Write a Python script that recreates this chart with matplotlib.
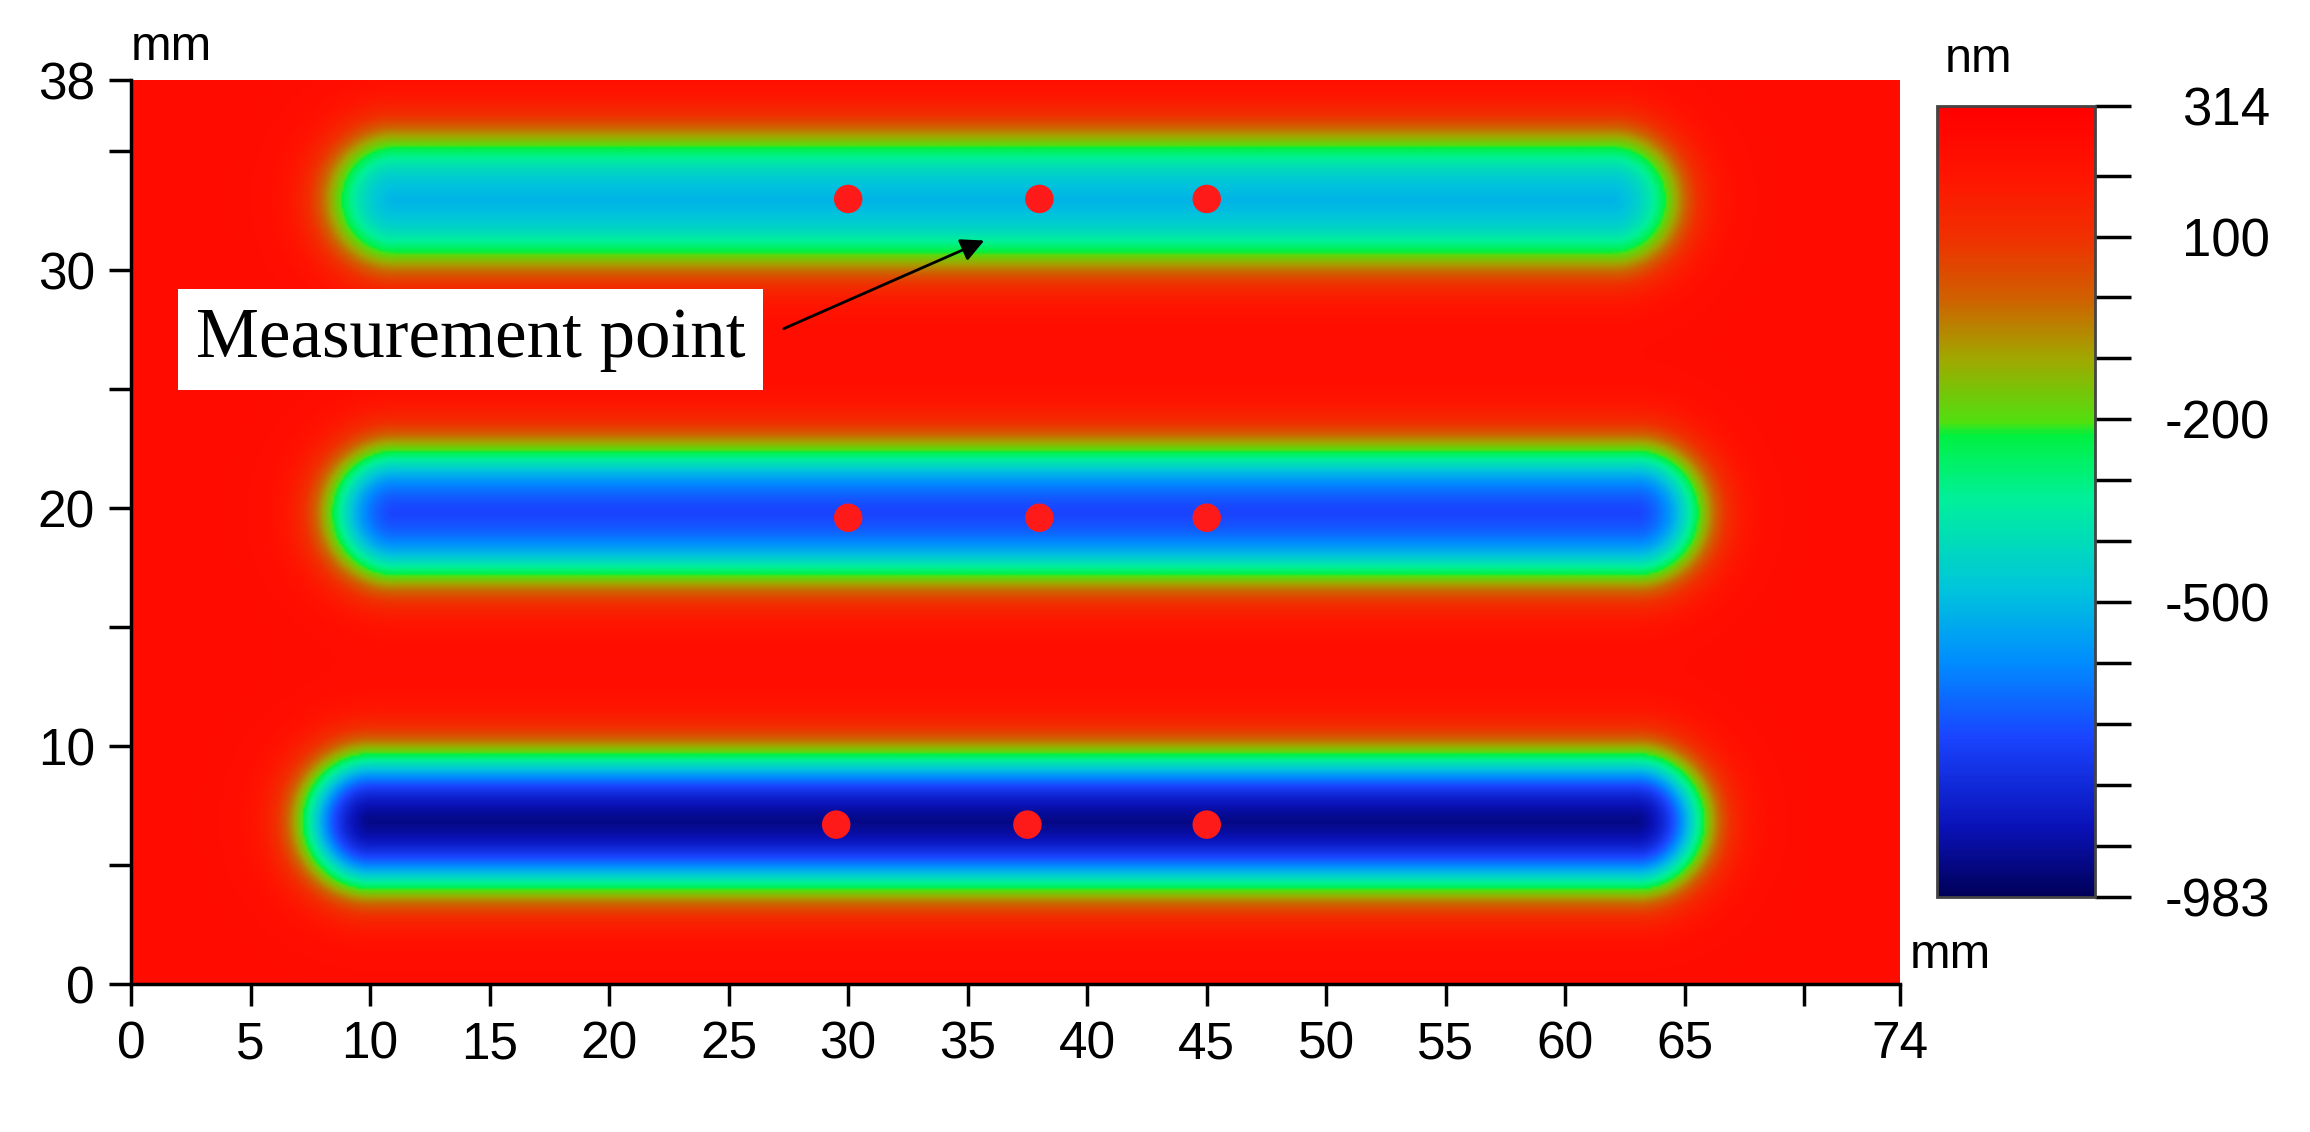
import numpy as np
import matplotlib
matplotlib.use("Agg")
import matplotlib.pyplot as plt
from matplotlib.colors import LinearSegmentedColormap, Normalize
from matplotlib.cm import ScalarMappable

plt.rcParams['font.family'] = ['Liberation Sans', 'DejaVu Sans']

# data
x_ticks = [0, 5, 10, 15, 20, 25, 30, 35, 40, 45, 50, 55, 60, 65, 74]
y_ticks = [0, 10, 20, 30, 38]
cbar_labels = [314, 100, -200, -500, -983]
vmin, vmax = -983, 314
background = 250
stripe_y = [33.0, 19.8, 6.8]
stripe_x0 = [11.0, 11.0, 10.0]
stripe_x1 = [62.0, 63.0, 63.0]
stripe_depth = [-540, -760, -970]
pts_x = [30, 38, 45, 30, 38, 45, 29.5, 37.5, 45]
pts_y = [33, 33, 33, 19.6, 19.6, 19.6, 6.7, 6.7, 6.7]

cvals = [-983, -870, -720, -600, -480, -330, -225, -205, -100, 0, 100, 200, 314]
ccols = ['#000058', '#0a12b8', '#1a45ff', '#008cff', '#00c4dc', '#00f09a',
         '#00f040', '#50e010', '#a0a800', '#d06000', '#f03000', '#ff1500', '#ff0000']
cmap = LinearSegmentedColormap.from_list(
    'c', [((v - vmin) / (vmax - vmin), c) for v, c in zip(cvals, ccols)])

xx = np.linspace(0, 74, 740)
yy = np.linspace(0, 38, 380)
X, Y = np.meshgrid(xx, yy)
Z = np.full_like(X, background, dtype=float)
for yc, x0, x1, dep in zip(stripe_y, stripe_x0, stripe_x1, stripe_depth):
    dx = np.clip(X, x0, x1) - X
    d = np.sqrt(dx ** 2 + (Y - yc) ** 2)
    f = 1 / (1 + np.exp((d - 2.5) / 0.75))
    Z = Z + (dep - background) * f

W, H = 2310, 1132
fig = plt.figure(figsize=(23.1, 11.32), dpi=100)
ax = fig.add_axes([131 / W, 1 - 984 / H, (1900 - 131) / W, (984 - 80) / H])
ax.imshow(Z, extent=[0, 74, 0, 38], origin='lower', cmap=cmap, vmin=vmin, vmax=vmax,
          aspect='auto', interpolation='bilinear')
ax.scatter(pts_x, pts_y, s=420, color='#ff1a1a', edgecolors='none', zorder=3)
ax.set_xlim(0, 74)
ax.set_ylim(0, 38)
ax.set_xticks(x_ticks)
ax.set_xticks([70], minor=True)
ax.set_yticks(y_ticks)
ax.set_yticks([5, 15, 25, 35], minor=True)
ax.tick_params(which='both', direction='out', length=16, width=2.5, labelsize=37, pad=10)
for s in ['top', 'right']:
    ax.spines[s].set_visible(False)
for s in ['left', 'bottom']:
    ax.spines[s].set_linewidth(2.5)
ax.text(0, 38.4, 'mm', fontsize=35, ha='left', va='bottom')
ax.text(74.4, 1.2, 'mm', fontsize=35, ha='left', va='center')

ax.annotate('', xy=(35.8, 31.3), xytext=(27.2, 27.5),
            arrowprops=dict(arrowstyle='-|>', color='black', lw=2, mutation_scale=35))
ax.text(14.2, 27.1, 'Measurement point', fontsize=51, family='Liberation Serif',
        ha='center', va='center',
        bbox=dict(boxstyle='square,pad=0.25', fc='white', ec='none'))

cax = fig.add_axes([1937 / W, 1 - 897 / H, (2095 - 1937) / W, (897 - 106) / H])
cb = fig.colorbar(ScalarMappable(Normalize(vmin, vmax), cmap), cax=cax)
cb.set_ticks(cbar_labels)
cb.set_ticklabels([str(v) for v in cbar_labels])
cb.ax.yaxis.set_ticks([200, 0, -100, -300, -400, -600, -700, -800, -900], minor=True)
cb.ax.tick_params(which='both', length=26, width=2.5, labelsize=38, pad=100)
for lab in cb.ax.get_yticklabels():
    lab.set_horizontalalignment('right')
cb.outline.set_edgecolor('#444444')
cb.outline.set_linewidth(2)
cax.text(0.05, 1.03, 'nm', transform=cax.transAxes, fontsize=35, ha='left', va='bottom')

fig.savefig('out.png', dpi=100)
